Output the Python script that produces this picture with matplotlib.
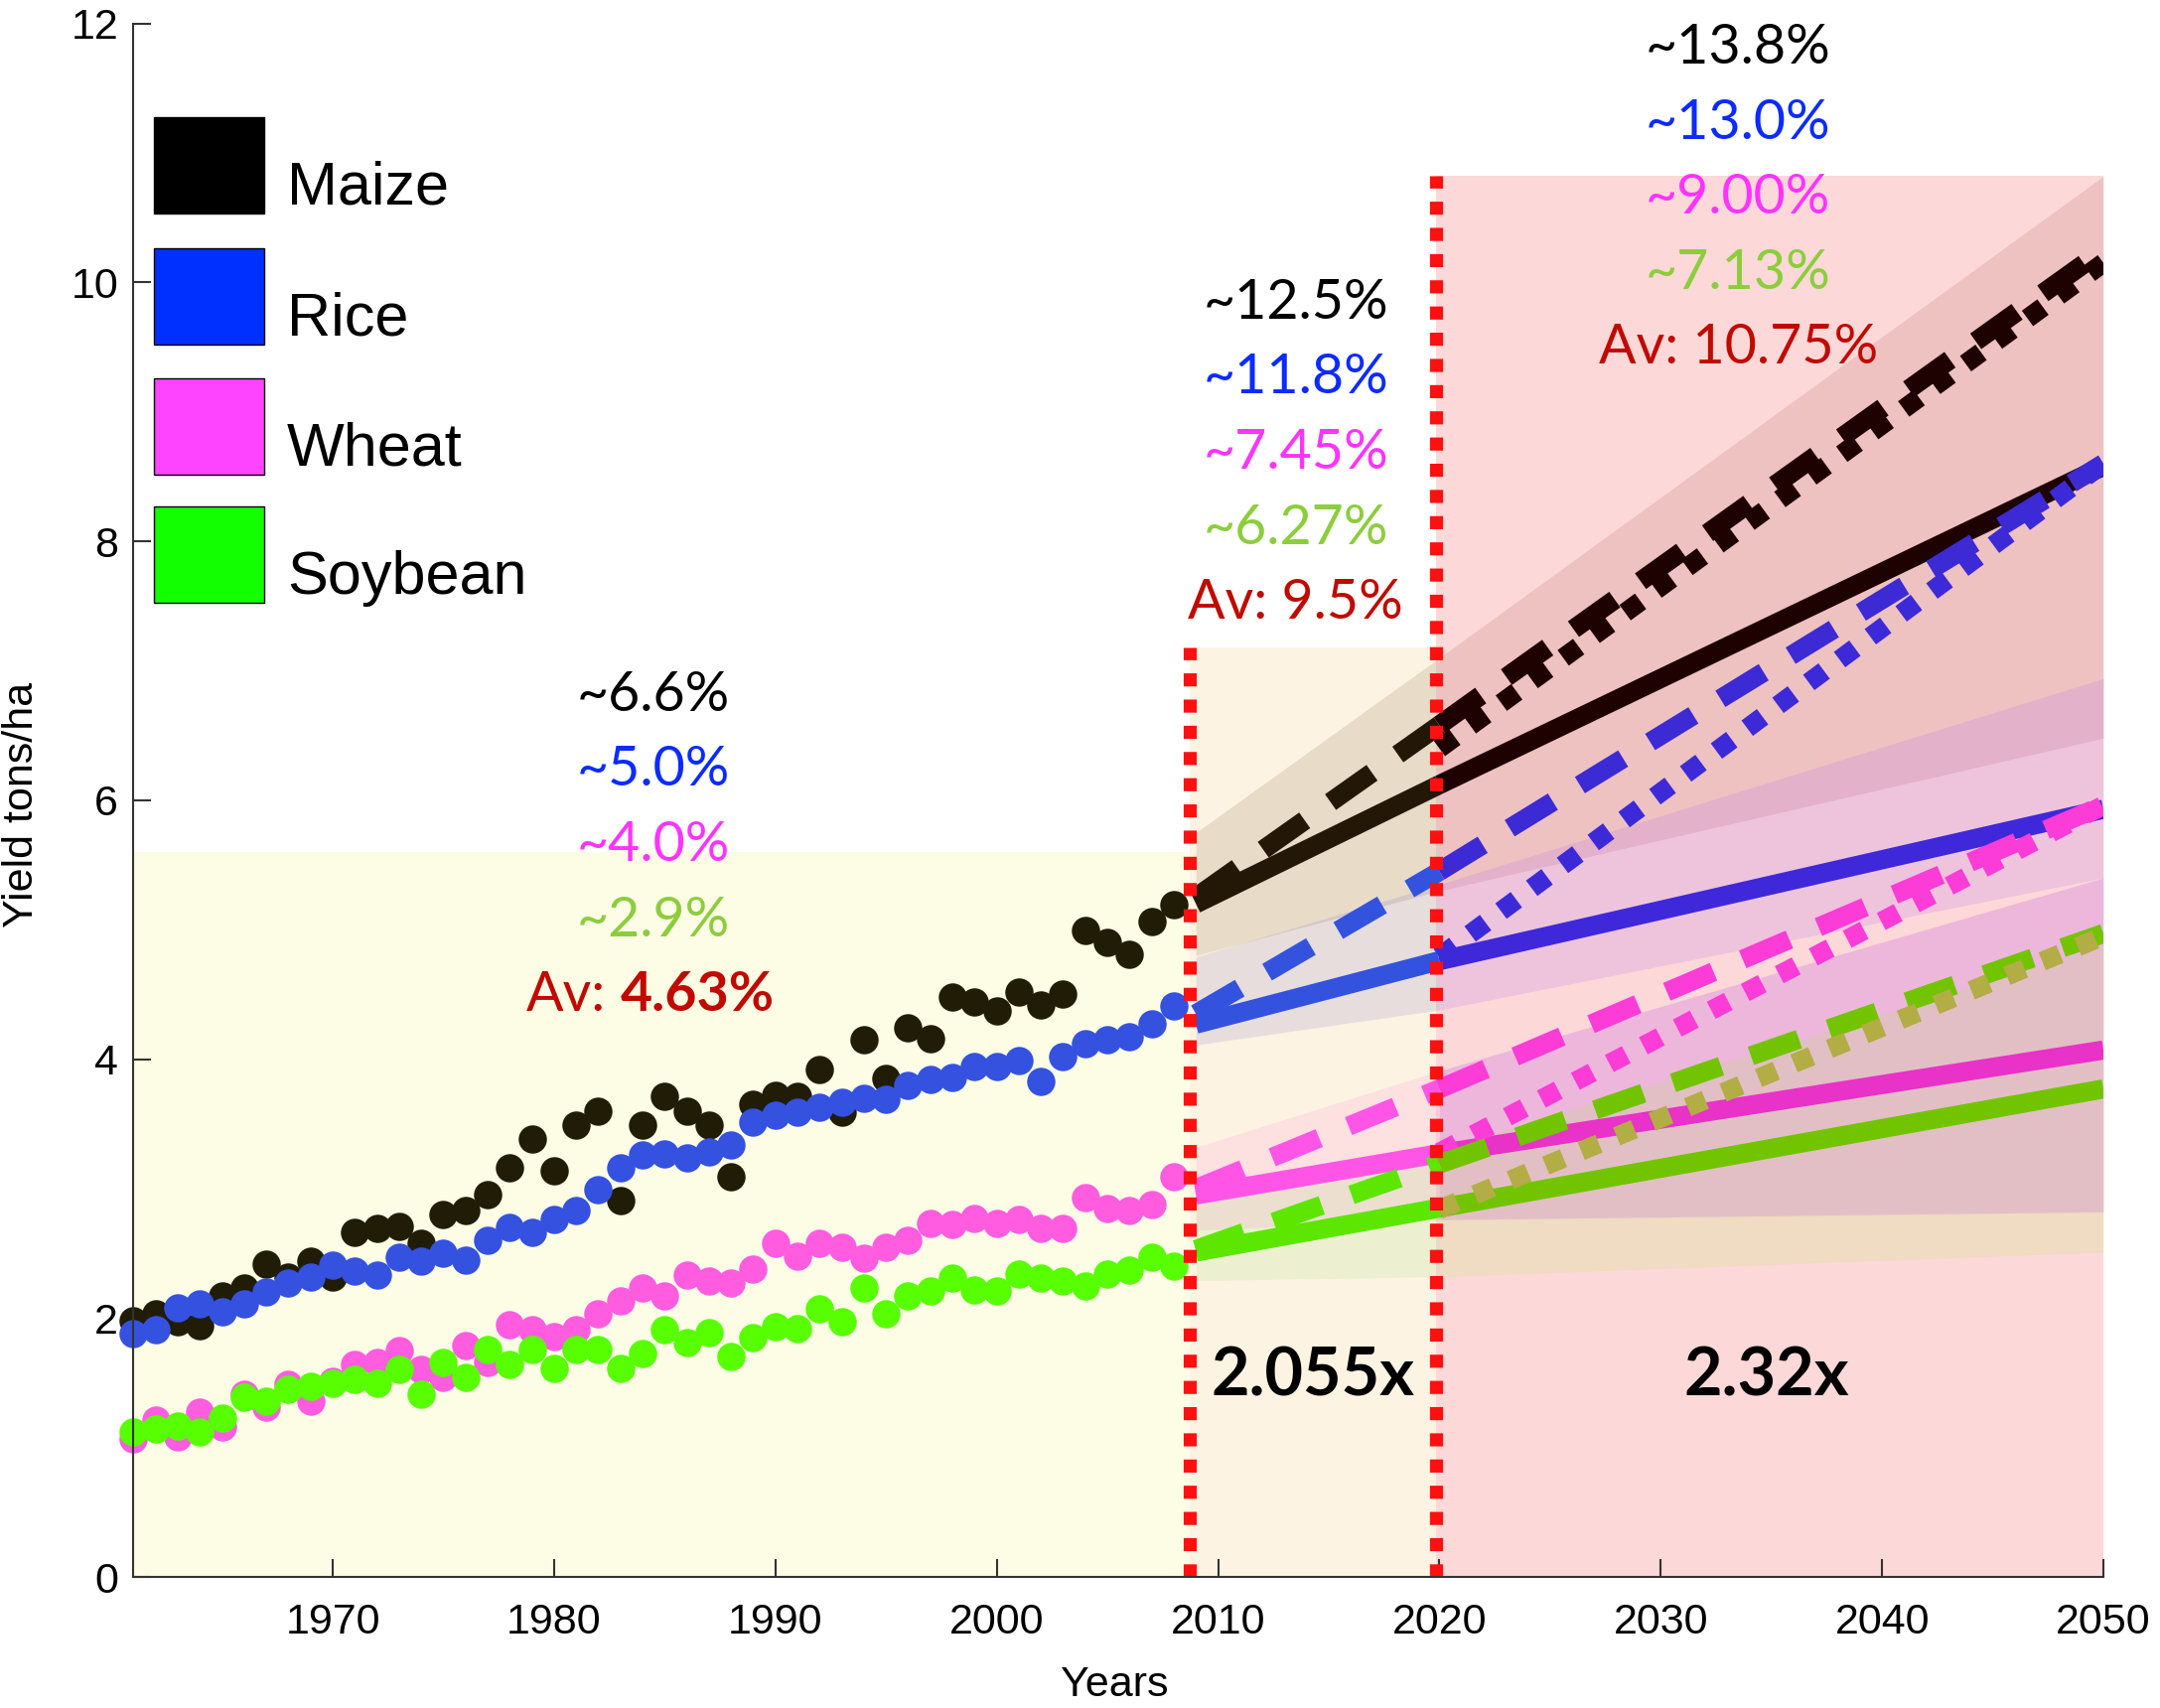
import numpy as np
import matplotlib
matplotlib.use("Agg")
import matplotlib.pyplot as plt
from matplotlib.patches import Rectangle

# ---------------- data ----------------
years = np.arange(1961, 2009)
maize = [1.98, 2.03, 1.97, 1.94, 2.17, 2.23, 2.42, 2.32, 2.44, 2.32,
         2.66, 2.69, 2.71, 2.58, 2.80, 2.83, 2.95, 3.16, 3.38, 3.14,
         3.49, 3.60, 2.91, 3.49, 3.71, 3.60, 3.49, 3.09, 3.65, 3.72,
         3.71, 3.92, 3.59, 4.15, 3.85, 4.24, 4.16, 4.48, 4.44, 4.37,
         4.52, 4.42, 4.50, 4.99, 4.90, 4.81, 5.06, 5.19]
rice = [1.88, 1.91, 2.08, 2.11, 2.05, 2.11, 2.20, 2.27, 2.32, 2.41,
        2.36, 2.33, 2.47, 2.44, 2.50, 2.45, 2.60, 2.70, 2.66, 2.76,
        2.83, 2.99, 3.16, 3.26, 3.27, 3.24, 3.28, 3.34, 3.51, 3.57,
        3.59, 3.63, 3.67, 3.70, 3.69, 3.80, 3.84, 3.86, 3.94, 3.94,
        3.99, 3.83, 4.02, 4.12, 4.15, 4.17, 4.27, 4.41]
wheat = [1.07, 1.21, 1.08, 1.27, 1.16, 1.41, 1.31, 1.49, 1.36, 1.51,
         1.64, 1.66, 1.75, 1.60, 1.54, 1.79, 1.66, 1.95, 1.91, 1.86,
         1.91, 2.03, 2.13, 2.23, 2.17, 2.33, 2.29, 2.27, 2.38, 2.58,
         2.48, 2.58, 2.55, 2.46, 2.55, 2.60, 2.73, 2.72, 2.77, 2.73,
         2.76, 2.69, 2.69, 2.93, 2.85, 2.83, 2.88, 3.09]
soybean = [1.12, 1.14, 1.17, 1.12, 1.23, 1.39, 1.36, 1.45, 1.47, 1.50,
           1.53, 1.50, 1.60, 1.41, 1.66, 1.54, 1.76, 1.64, 1.76, 1.61,
           1.76, 1.76, 1.61, 1.73, 1.91, 1.81, 1.89, 1.70, 1.85, 1.93,
           1.92, 2.07, 1.97, 2.23, 2.03, 2.17, 2.21, 2.31, 2.22, 2.21,
           2.34, 2.31, 2.29, 2.25, 2.34, 2.37, 2.47, 2.40]

crops = ["Maize", "Rice", "Wheat", "Soybean"]

# projections
proj_years = [2009, 2020, 2050]
dot_years = [2020, 2050]
solid = {"Maize": [5.20, 6.12, 8.58], "Rice": [4.27, 4.76, 5.93],
         "Wheat": [2.95, 3.27, 4.07], "Soybean": [2.51, 2.85, 3.77]}
dashed = {"Maize": [5.25, 6.58, 10.25], "Rice": [4.35, 5.45, 8.60],
          "Wheat": [3.00, 3.77, 5.96], "Soybean": [2.53, 3.19, 4.97]}
dotted = {"Maize": [6.40, 10.15], "Rice": [4.79, 8.60],
          "Wheat": [3.28, 5.96], "Soybean": [2.84, 4.95]}
band_lo = {"Maize": [4.80, 5.30, 6.48], "Rice": [4.11, 4.38, 5.40],
           "Wheat": [2.68, 2.76, 2.82], "Soybean": [2.29, 2.32, 2.51]}
band_hi = {"Maize": [5.75, 7.10, 10.82], "Rice": [4.79, 5.35, 6.94],
           "Wheat": [3.32, 3.91, 5.40], "Soybean": [2.88, 3.30, 4.87]}

# shaded periods and separators
region_x = [(1961, 2008.7), (2008.7, 2019.85), (2019.85, 2050)]
region_top = [5.6, 7.18, 10.82]
sep_x = [2008.7, 2019.85]
sep_top = [7.18, 10.82]

# annotation texts
p1_labels = ["~6.6%", "~5.0%", "~4.0%", "~2.9%"]
p2_labels = ["~12.5%", "~11.8%", "~7.45%", "~6.27%", "Av: 9.5%"]
p3_labels = ["~13.8%", "~13.0%", "~9.00%", "~7.13%", "Av: 10.75%"]
p1_av = ("Av:", "4.63%")
factor_labels = ["2.055x", "2.32x"]
factor_x = [2014.3, 2034.8]

# ---------------- styles ----------------
region_colors = ["#fdfde6", "#fdf3e2", "#fcd8d8"]
pt_colors = {"Maize": "#211c05", "Rice": "#3451e0", "Wheat": "#ff5ce0", "Soybean": "#57ff00"}
seg1_colors = {"Maize": "#231705", "Rice": "#3352de", "Wheat": "#ff55e6", "Soybean": "#5ce600"}
seg2_solid = {"Maize": "#1e0202", "Rice": "#3f28d9", "Wheat": "#e832c8", "Soybean": "#72c400"}
seg2_dash = {"Maize": "#1e0202", "Rice": "#3c2ad4", "Wheat": "#fb3cd6", "Soybean": "#72c400"}
seg2_dot = {"Maize": "#1e0202", "Rice": "#3c2ad8", "Wheat": "#fb3cd6", "Soybean": "#b2ad45"}
band1_colors = {"Maize": "#715a3a", "Rice": "#6a60c0", "Wheat": "#fd74da", "Soybean": "#8cdf70"}
band2_colors = {"Maize": "#a54646", "Rice": "#9f54f4", "Wheat": "#9600ed", "Soybean": "#aced4d"}
legend_colors = {"Maize": "#000000", "Rice": "#0030ff", "Wheat": "#ff44ff", "Soybean": "#11ff00"}
text_colors = ["#000000", "#0b2bff", "#ff33ff", "#8ccd3c", "#c00a00"]

LW = 13.9
ANN = "Lato"
AX = "Liberation Sans"
ANN_SIZE = 40

fig = plt.figure(figsize=(21.75, 17.2), dpi=100)
ax = fig.add_axes([0.0618, 0.0767, 0.912, 0.9096])
ax.set_xlim(1961, 2050)
ax.set_ylim(0, 12)

# background periods
for (x0, x1), top, c in zip(region_x, region_top, region_colors):
    ax.fill_between([x0, x1], [0, 0], [top, top], color=c, lw=0, zorder=0)

# uncertainty bands
for crop in crops:
    lo, hi = band_lo[crop], band_hi[crop]
    ax.fill_between(proj_years[:2], lo[:2], hi[:2], color=band1_colors[crop],
                    alpha=0.15, lw=0, zorder=1)
    ax.fill_between(proj_years[1:], lo[1:], hi[1:], color=band2_colors[crop],
                    alpha=0.15, lw=0, zorder=1)

# projection lines
dash_pat = (2.65, 1.65)
dot_pat = (1.0, 1.0)
for crop in crops:
    s, d, t = solid[crop], dashed[crop], dotted[crop]
    ax.plot(proj_years[:2], s[:2], color=seg1_colors[crop], lw=LW,
            solid_capstyle="butt", zorder=2)
    ax.plot(proj_years[1:], s[1:], color=seg2_solid[crop], lw=LW,
            solid_capstyle="butt", zorder=2)
    ax.plot(proj_years[:2], d[:2], color=seg1_colors[crop], lw=LW,
            dashes=dash_pat, dash_capstyle="butt", zorder=2)
    ax.plot(proj_years[1:], d[1:], color=seg2_dash[crop], lw=LW,
            dashes=dash_pat, dash_capstyle="butt", zorder=2)
    ax.plot(dot_years, t, color=seg2_dot[crop], lw=LW,
            dashes=dot_pat, dash_capstyle="butt", zorder=2)

# historical points
for crop, vals in zip(crops, [maize, rice, wheat, soybean]):
    ax.plot(years, vals, "o", color=pt_colors[crop], ms=20.5, mec="none",
            clip_on=False, zorder=4)

# separators
for x, top in zip(sep_x, sep_top):
    ax.plot([x, x], [0, top], color="#ff1010", lw=9.5, dashes=(1.0, 1.0),
            dash_capstyle="butt", zorder=5, clip_on=False)

# axes style
for sp in ["top", "right"]:
    ax.spines[sp].set_visible(False)
for sp in ["left", "bottom"]:
    ax.spines[sp].set_color("#333333")
    ax.spines[sp].set_linewidth(1.5)
    ax.spines[sp].set_zorder(6)
ax.set_xticks(np.arange(1970, 2051, 10))
ax.set_yticks(np.arange(0, 13, 2))
ax.tick_params(direction="in", length=13, width=1.5, color="#333333",
               labelsize=31, labelcolor="black")
ax.tick_params(axis="x", pad=19)
ax.tick_params(axis="y", pad=11)
for lab in ax.get_xticklabels() + ax.get_yticklabels():
    lab.set_family(AX)
ax.set_xlabel("Years", fontsize=31, family=AX)
ax.set_ylabel("Yield tons/ha", fontsize=31, family=AX)
ax.xaxis.set_label_coords(0.498, -0.057)
ax.yaxis.set_label_coords(-0.0466, 0.497)

# legend (drawn as swatches + labels in axes-fraction coordinates)
AX_L, AX_B, AX_W, AX_H = 134.5, 1588.0, 1983.5, 1564.4


def px2ax(px, py):
    return (px - AX_L) / AX_W, (AX_B - py) / AX_H


box_left, box_w, box_h = 155, 111, 97
box_tops = [118, 250, 381, 510]
for crop, top in zip(crops, box_tops):
    x0, y0 = px2ax(box_left, top + box_h)
    x1, y1 = px2ax(box_left + box_w, top)
    ax.add_patch(Rectangle((x0, y0), x1 - x0, y1 - y0, transform=ax.transAxes,
                           facecolor=legend_colors[crop], edgecolor="black",
                           lw=1.0, clip_on=False, zorder=7))
    tx, ty = px2ax(289, top + box_h / 2 + 17 + 22)
    ax.text(tx, ty, crop, transform=ax.transAxes, ha="left", va="baseline",
            fontsize=44, family=AX, color="black", zorder=7)

# annotations
pitch = 0.58
p1_x, p1_y0 = 1984.5, 6.69
for i, lab in enumerate(p1_labels):
    ax.text(p1_x, p1_y0 - i * pitch, lab, ha="center", va="baseline",
            fontsize=ANN_SIZE, family=ANN, color=text_colors[i], zorder=8)
ax.text(1982.35, p1_y0 - 4 * pitch, p1_av[0], ha="right", va="baseline",
        fontsize=ANN_SIZE, family=ANN, color=text_colors[4], zorder=8)
ax.text(1983.0, p1_y0 - 4 * pitch, p1_av[1], ha="left", va="baseline",
        fontsize=ANN_SIZE, family=ANN, weight="bold", color=text_colors[4], zorder=8)

p2_x, p2_y0 = 2013.5, 9.72
for i, lab in enumerate(p2_labels):
    ax.text(p2_x, p2_y0 - i * pitch, lab, ha="center", va="baseline",
            fontsize=ANN_SIZE, family=ANN, color=text_colors[i], zorder=8)

p3_x, p3_y0 = 2033.5, 11.69
for i, lab in enumerate(p3_labels):
    ax.text(p3_x, p3_y0 - i * pitch, lab, ha="center", va="baseline",
            fontsize=ANN_SIZE, family=ANN, color=text_colors[i], zorder=8)

for x, lab in zip(factor_x, factor_labels):
    ax.text(x, 1.40, lab, ha="center", va="baseline", fontsize=48,
            family=ANN, weight="bold", color="black", zorder=8)

fig.savefig("out.png", dpi=100)
